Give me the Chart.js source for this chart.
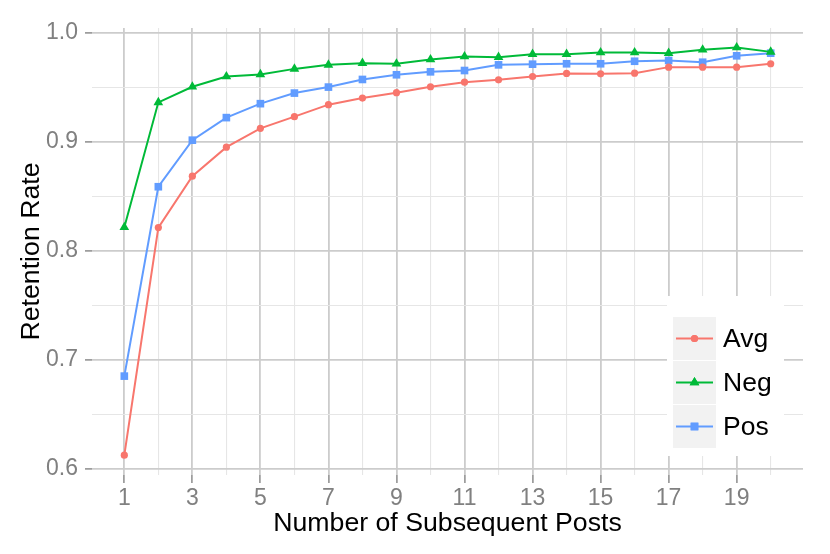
<!DOCTYPE html>
<html>
<head>
<meta charset="utf-8">
<script src="https://cdn.jsdelivr.net/npm/chart.js@4.4.1/dist/chart.umd.min.js"></script>
<style>
  html, body { margin: 0; padding: 0; background: #ffffff; }
  #wrap { width: 830px; height: 554px; position: relative; }
</style>
</head>
<body>
<div id="wrap"><canvas id="c" width="830" height="554"></canvas></div>
<script>
// ---- data ----
const posts = [1,2,3,4,5,6,7,8,9,10,11,12,13,14,15,16,17,18,19,20];
const avgValues = [0.6127,0.8214,0.8686,0.8952,0.9125,0.9232,0.9342,0.9402,0.9452,0.9506,0.9548,0.9570,0.9600,0.9628,0.9625,0.9631,0.9686,0.9686,0.9686,0.9717];
const negValues = [0.8217,0.9363,0.9506,0.9600,0.9619,0.9670,0.9707,0.9722,0.9717,0.9756,0.9783,0.9777,0.9805,0.9805,0.9820,0.9820,0.9814,0.9845,0.9866,0.9826];
const posValues = [0.6852,0.8589,0.9016,0.9223,0.9351,0.9448,0.9503,0.9573,0.9616,0.9643,0.9655,0.9707,0.9713,0.9717,0.9717,0.9740,0.9747,0.9731,0.9790,0.9814];
const seriesNames = ['Avg','Neg','Pos'];
const xTickValues = [1,2,3,4,5,6,7,8,9,10,11,12,13,14,15,16,17,18,19,20];
const yTickValues = [0.6,0.65,0.7,0.75,0.8,0.85,0.9,0.95,1.0];

const FONT = "'Liberation Sans', Arial, Helvetica, sans-serif";
const colors = ['#F8766D', '#00BA38', '#619CFF'];
const shapes = ['circle', 'triangle', 'rect'];
const radii = [3.6, 5.6, 5.4];
const MAJOR = '#CCCCCC', MINOR = '#E6E6E6';

function toXY(vals) { return posts.map((p, i) => ({ x: p, y: vals[i] })); }
const allVals = [avgValues, negValues, posValues];

const datasets = seriesNames.map((name, i) => ({
  label: name,
  data: toXY(allVals[i]),
  borderColor: colors[i],
  backgroundColor: colors[i],
  borderWidth: 2,
  pointStyle: shapes[i],
  pointRadius: radii[i],
  pointBorderWidth: 0,
  pointBackgroundColor: colors[i],
  pointHoverRadius: radii[i],
  tension: 0,
  fill: false
}));

function isMajorX(v) { return Math.round(v) % 2 === 1; }
function isMajorY(v) { return Math.abs(Math.round(v * 10) - v * 10) < 1e-6; }

const legendPlugin = {
  id: 'ggLegend',
  afterDraw(chart) {
    const ctx = chart.ctx;
    ctx.save();
    ctx.fillStyle = '#ffffff';
    ctx.fillRect(667, 296, 117, 160);
    const keyX = 673, keyW = 43, keyH = 43;
    const tops = [317, 361, 405];
    seriesNames.forEach((name, i) => {
      const top = tops[i];
      ctx.fillStyle = '#F2F2F2';
      ctx.fillRect(keyX, top, keyW, keyH);
      const cy = top + keyH / 2;
      ctx.strokeStyle = colors[i];
      ctx.lineWidth = 2;
      ctx.beginPath();
      ctx.moveTo(keyX + 3, cy);
      ctx.lineTo(keyX + keyW - 3, cy);
      ctx.stroke();
      ctx.fillStyle = colors[i];
      Chart.helpers.drawPoint(ctx, {
        pointStyle: shapes[i], radius: radii[i], borderWidth: 0, rotation: 0
      }, keyX + keyW / 2, cy);
      ctx.fill();
      ctx.fillStyle = '#000000';
      ctx.font = '26.5px ' + FONT;
      ctx.textBaseline = 'middle';
      ctx.textAlign = 'left';
      ctx.fillText(name, 723, cy + 1);
    });
    ctx.restore();
  }
};

new Chart(document.getElementById('c'), {
  type: 'line',
  data: { datasets },
  options: {
    responsive: false,
    animation: false,
    devicePixelRatio: 1,
    layout: { padding: { left: 0, right: 27, top: 28, bottom: 0 } },
    plugins: { legend: { display: false }, tooltip: { enabled: false } },
    scales: {
      x: {
        type: 'linear',
        min: 0.05,
        max: 20.95,
        afterBuildTicks(scale) { scale.ticks = xTickValues.map(v => ({ value: v })); },
        afterFit(scale) { scale.height = 79; },
        border: { display: false },
        grid: {
          drawOnChartArea: true,
          color: ctx => isMajorX(ctx.tick.value) ? MAJOR : MINOR,
          lineWidth: ctx => isMajorX(ctx.tick.value) ? 1.8 : 1.1,
          tickColor: ctx => isMajorX(ctx.tick.value) ? '#8C8C8C' : 'rgba(0,0,0,0)',
          tickLength: 8,
          tickWidth: 1.5
        },
        ticks: {
          autoSkip: false,
          maxRotation: 0,
          padding: 1.5,
          color: '#808080',
          font: { family: FONT, size: 23 },
          callback: v => isMajorX(v) ? String(v) : ''
        },
        title: {
          display: true,
          text: 'Number of Subsequent Posts',
          color: '#000000',
          font: { family: FONT, size: 26.7 },
          padding: { top: 0, bottom: 14.5 }
        }
      },
      y: {
        type: 'linear',
        min: 0.5945,
        max: 1.0045,
        afterBuildTicks(scale) { scale.ticks = yTickValues.map(v => ({ value: v })); },
        afterFit(scale) { scale.width = 92; },
        border: { display: false },
        grid: {
          color: ctx => isMajorY(ctx.tick.value) ? MAJOR : MINOR,
          lineWidth: ctx => isMajorY(ctx.tick.value) ? 1.8 : 1.1,
          tickColor: ctx => isMajorY(ctx.tick.value) ? '#8C8C8C' : 'rgba(0,0,0,0)',
          tickLength: 7,
          tickWidth: 1.5
        },
        ticks: {
          autoSkip: false,
          padding: 7,
          color: '#808080',
          font: { family: FONT, size: 23 },
          callback: v => isMajorY(v) ? v.toFixed(1) : ''
        },
        title: {
          display: true,
          text: 'Retention Rate',
          color: '#000000',
          font: { family: FONT, size: 26.7 },
          padding: { top: 15.4, bottom: 0 }
        }
      }
    }
  },
  plugins: [legendPlugin]
});
</script>
</body>
</html>
